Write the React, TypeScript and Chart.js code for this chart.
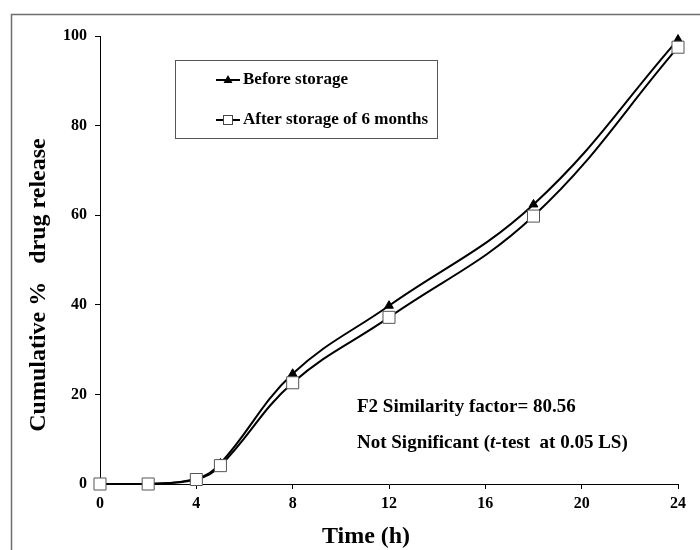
import React, { useEffect, useRef } from "react";
import { Chart, registerables } from "chart.js";

Chart.register(...registerables);

const timeHours = [0, 2, 4, 5, 8, 12, 18, 24];
const beforeStorage = [0, 0, 1.2, 4.6, 24.6, 39.8, 62.4, 99.2];
const afterStorage = [0, 0, 1.0, 4.1, 22.6, 37.2, 59.8, 97.5];
const xTicks = [0, 4, 8, 12, 16, 20, 24];
const yTicks = [0, 20, 40, 60, 80, 100];
const legendLabels = ["Before storage", "After storage of 6 months"];
const noteLine1 = "F2 Similarity factor= 80.56";
const noteLine2a = "Not Significant (";
const noteLine2b = "t";
const noteLine2c = "-test  at 0.05 LS)";
const xTitle = "Time (h)";
const yTitle = "Cumulative %   drug release";

const SERIF = '"Liberation Serif", "Times New Roman", serif';

const decorPlugin = {
  id: "decor",
  beforeDraw(chart: any) {
    const ctx = chart.ctx;
    ctx.save();
    ctx.fillStyle = "#ffffff";
    ctx.fillRect(0, 0, chart.width, chart.height);
    ctx.strokeStyle = "#6e6e6e";
    ctx.lineWidth = 1.5;
    ctx.strokeRect(11.5, 14.5, 720, 600);
    ctx.restore();
  },
  afterDraw(chart: any) {
    const ctx = chart.ctx;
    ctx.save();
    // legend box
    ctx.fillStyle = "#ffffff";
    ctx.fillRect(175.5, 60.5, 262, 78);
    ctx.strokeStyle = "#555555";
    ctx.lineWidth = 1;
    ctx.strokeRect(175.5, 60.5, 262, 78);
    ctx.strokeStyle = "#000";
    ctx.lineWidth = 2;
    // entry 1
    ctx.beginPath();
    ctx.moveTo(216, 80);
    ctx.lineTo(240, 80);
    ctx.stroke();
    ctx.fillStyle = "#000";
    ctx.beginPath();
    ctx.moveTo(228, 75);
    ctx.lineTo(232.5, 83);
    ctx.lineTo(223.5, 83);
    ctx.closePath();
    ctx.fill();
    // entry 2
    ctx.beginPath();
    ctx.moveTo(216, 120);
    ctx.lineTo(240, 120);
    ctx.stroke();
    ctx.fillStyle = "#fff";
    ctx.fillRect(223.5, 115.5, 9, 9);
    ctx.strokeStyle = "#444";
    ctx.lineWidth = 1;
    ctx.strokeRect(223.5, 115.5, 9, 9);
    ctx.fillStyle = "#000";
    ctx.font = "bold 17px " + SERIF;
    ctx.textBaseline = "middle";
    ctx.textAlign = "left";
    ctx.fillText(legendLabels[0], 243, 80);
    ctx.fillText(legendLabels[1], 243, 120);

    // notes
    ctx.font = "bold 19px " + SERIF;
    ctx.fillText(noteLine1, 357, 407);
    let x = 357;
    ctx.fillText(noteLine2a, x, 443);
    x += ctx.measureText(noteLine2a).width;
    ctx.font = "italic bold 19px " + SERIF;
    ctx.fillText(noteLine2b, x, 443);
    x += ctx.measureText(noteLine2b).width;
    ctx.font = "bold 19px " + SERIF;
    ctx.fillText(noteLine2c, x, 443);

    // axis titles
    ctx.font = "bold 24px " + SERIF;
    ctx.textAlign = "center";
    ctx.textBaseline = "alphabetic";
    ctx.fillText(xTitle, 366, 543);
    ctx.translate(45, 285);
    ctx.rotate(-Math.PI / 2);
    ctx.font = "bold 24px " + SERIF;
    ctx.fillText(yTitle, 0, 0);
    ctx.restore();
  },
};

export default function App() {
  const canvasRef = useRef<HTMLCanvasElement | null>(null);

  useEffect(() => {
    document.body.style.margin = "0";
    const canvas = canvasRef.current;
    if (!canvas) return;
    const chart = new Chart(canvas, {
      type: "line",
      data: {
        labels: timeHours,
        datasets: [
          {
            label: legendLabels[1],
            data: timeHours.map((t, i) => ({ x: t, y: afterStorage[i] })),
            borderColor: "#000",
            borderWidth: 2,
            tension: 0.4,
            clip: false,
            pointStyle: "rect",
            pointRadius: 8.5,
            pointBackgroundColor: "#fff",
            pointBorderColor: "#555",
            pointBorderWidth: 1,
          },
          {
            label: legendLabels[0],
            data: timeHours.map((t, i) => ({ x: t, y: beforeStorage[i] })),
            borderColor: "#000",
            borderWidth: 2,
            tension: 0.4,
            clip: false,
            pointStyle: "triangle",
            pointRadius: 5,
            pointBackgroundColor: "#000",
            pointBorderColor: "#000",
            pointBorderWidth: 1,
          },
        ],
      },
      options: {
        animation: false,
        responsive: true,
        maintainAspectRatio: false,
        layout: { padding: { left: 0, top: 36, right: 22, bottom: 0 } },
        plugins: {
          legend: { display: false },
          tooltip: { enabled: false },
        },
        scales: {
          x: {
            type: "linear",
            min: 0,
            max: 24,
            afterFit: (s: any) => {
              s.height = 66;
            },
            afterBuildTicks: (s: any) => {
              s.ticks = xTicks.map((v) => ({ value: v }));
            },
            grid: {
              display: true,
              drawOnChartArea: false,
              drawTicks: true,
              tickLength: 5,
              color: "#000",
            },
            border: { display: true, color: "#000", width: 1 },
            ticks: {
              color: "#000",
              padding: 5,
              font: { family: SERIF, size: 16, weight: "bold" },
            },
          },
          y: {
            type: "linear",
            min: 0,
            max: 100,
            afterFit: (s: any) => {
              s.width = 100;
            },
            afterBuildTicks: (s: any) => {
              s.ticks = yTicks.map((v) => ({ value: v }));
            },
            grid: {
              display: true,
              drawOnChartArea: false,
              drawTicks: true,
              tickLength: 5,
              color: "#000",
            },
            border: { display: true, color: "#000", width: 1 },
            ticks: {
              color: "#000",
              padding: 8,
              font: { family: SERIF, size: 16, weight: "bold" },
            },
          },
        },
      },
      plugins: [decorPlugin],
    } as any);
    return () => chart.destroy();
  }, []);

  return (
    <div style={{ position: "absolute", left: 0, top: 0, width: 700, height: 550 }}>
      <canvas ref={canvasRef} />
    </div>
  );
}
